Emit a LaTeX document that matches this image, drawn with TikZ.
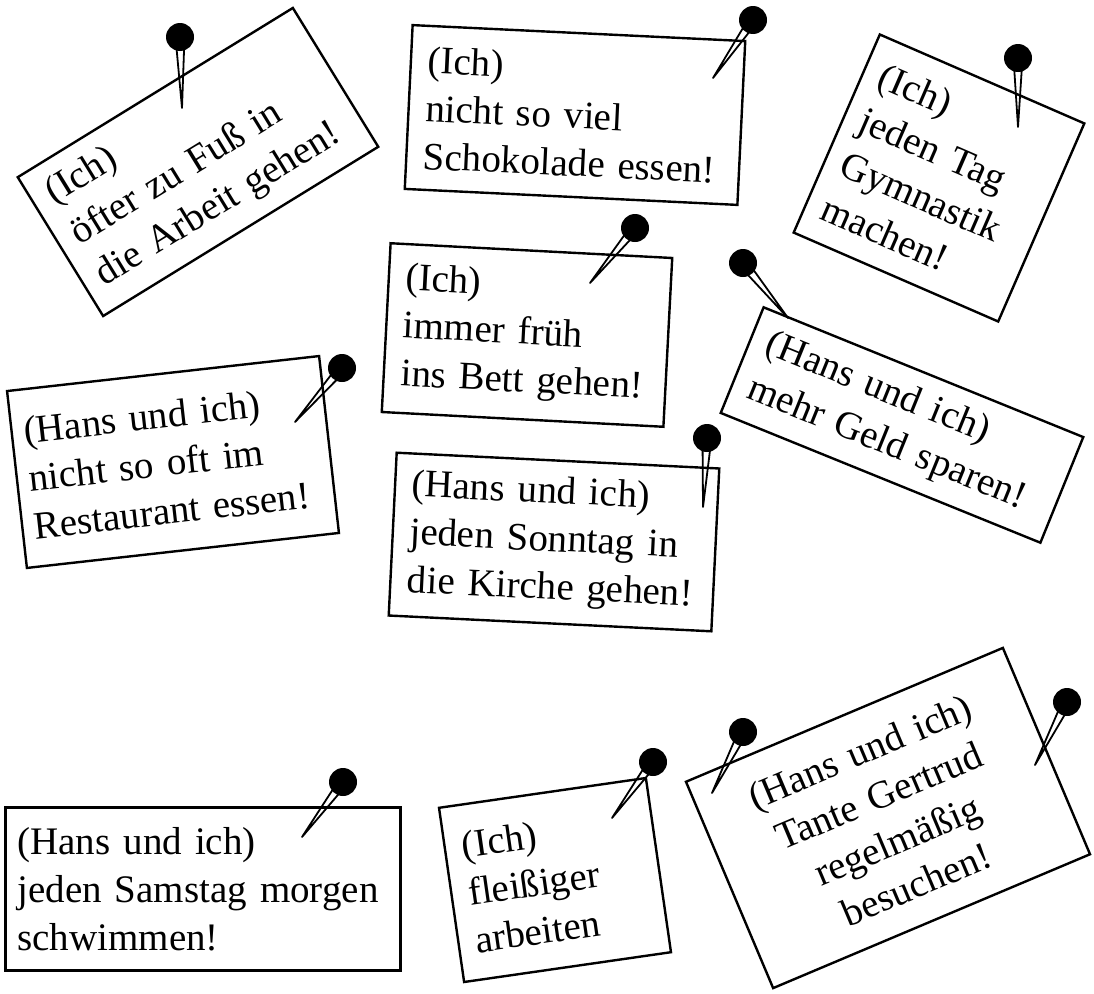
\documentclass[tikz,border=0pt]{standalone}
\usepackage{fontspec}
\setmainfont{Liberation Serif}
\usetikzlibrary{calc}

\begin{document}
\begin{tikzpicture}[x=1pt, y=-1pt,
    note/.style={draw, line width=2.4pt, fill=white, inner xsep=17pt, inner ysep=6pt, align=left,
                 font=\fontsize{39}{48}\selectfont},
    needle/.style={line width=1.8pt, line join=round},
    pinhead/.style={fill=black}]

\useasboundingbox (0,0) rectangle (1094,993);

%% notes
% top row
\node[note, rotate=31.6, text width=289, minimum height=163] (fuss) at (198,162)
    {(Ich)\\ öfter zu Fuß in\\ die Arbeit gehen!};
\node[note, rotate=-2.75, text width=299, minimum height=164] (schoko) at (575,115)
    {(Ich)\\ nicht so viel\\ Schokolade essen!};
\node[note, rotate=-23.5, text width=189, minimum height=216] (gym) at (939,178)
    {(Ich)\\ jeden Tag\\ Gymnastik\\ machen!};
% middle
\node[note, rotate=-3, text width=248, minimum height=169] (bett) at (527,335)
    {(Ich)\\ immer früh\\ ins Bett gehen!};
\node[note, rotate=-22.1, text width=311, minimum height=114] (geld) at (902,425)
    {(Hans und ich)\\ mehr Geld sparen!};
\node[note, rotate=6.4, text width=290, inner xsep=12pt, minimum height=178] (restaurant) at (173,462)
    {(Hans und ich)\\ nicht so oft im\\ Restaurant essen!};
\node[note, rotate=-2.8, text width=289, minimum height=163] (kirche) at (554,542)
    {(Hans und ich)\\ jeden Sonntag in\\ die Kirche gehen!};
% bottom row
\node[note, text width=371, inner xsep=12pt, minimum height=163] (schwimmen) at (203,889)
    {(Hans und ich)\\ jeden Samstag morgen\\ schwimmen!};
\node[note, rotate=8.2, text width=175, minimum height=176] (arbeit) at (555,880)
    {(Ich)\\ fleißiger\\ arbeiten};
\node[note, rotate=22.9, text width=310, minimum height=224, align=center] (tante) at (888,818)
    {(Hans und ich)\\ Tante Gertrud\\ regelmäßig\\ besuchen!};

%% pins
% pin 1
\draw[needle] ($(180,37)!4.5pt!90:(182,108)$) -- (182,108) -- ($(180,37)!4.5pt!-90:(182,108)$);
\fill[pinhead] (180,37) circle (14pt);
% pin 2
\draw[needle] ($(753,20)!4.5pt!90:(713,78)$) -- (713,78) -- ($(753,20)!4.5pt!-90:(713,78)$);
\fill[pinhead] (753,20) circle (14pt);
% pin 3
\draw[needle] ($(1018,58)!4.5pt!90:(1018,127)$) -- (1018,127) -- ($(1018,58)!4.5pt!-90:(1018,127)$);
\fill[pinhead] (1018,58) circle (14pt);
% pin 4
\draw[needle] ($(635,228)!4.5pt!90:(590,283)$) -- (590,283) -- ($(635,228)!4.5pt!-90:(590,283)$);
\fill[pinhead] (635,228) circle (14pt);
% pin 5
\draw[needle] ($(743,263)!4.5pt!90:(788,318)$) -- (788,318) -- ($(743,263)!4.5pt!-90:(788,318)$);
\fill[pinhead] (743,263) circle (14pt);
% pin 6
\draw[needle] ($(342,368)!4.5pt!90:(295,422)$) -- (295,422) -- ($(342,368)!4.5pt!-90:(295,422)$);
\fill[pinhead] (342,368) circle (14pt);
% pin 7
\draw[needle] ($(707,438)!4.5pt!90:(703,507)$) -- (703,507) -- ($(707,438)!4.5pt!-90:(703,507)$);
\fill[pinhead] (707,438) circle (14pt);
% pin 8
\draw[needle] ($(343,782)!4.5pt!90:(302,837)$) -- (302,837) -- ($(343,782)!4.5pt!-90:(302,837)$);
\fill[pinhead] (343,782) circle (14pt);
% pin 9
\draw[needle] ($(653,762)!4.5pt!90:(612,818)$) -- (612,818) -- ($(653,762)!4.5pt!-90:(612,818)$);
\fill[pinhead] (653,762) circle (14pt);
% pin 10 (two)
\draw[needle] ($(743,732)!4.5pt!90:(712,793)$) -- (712,793) -- ($(743,732)!4.5pt!-90:(712,793)$);
\fill[pinhead] (743,732) circle (14pt);
\draw[needle] ($(1067,702)!4.5pt!90:(1035,765)$) -- (1035,765) -- ($(1067,702)!4.5pt!-90:(1035,765)$);
\fill[pinhead] (1067,702) circle (14pt);

\end{tikzpicture}
\end{document}
